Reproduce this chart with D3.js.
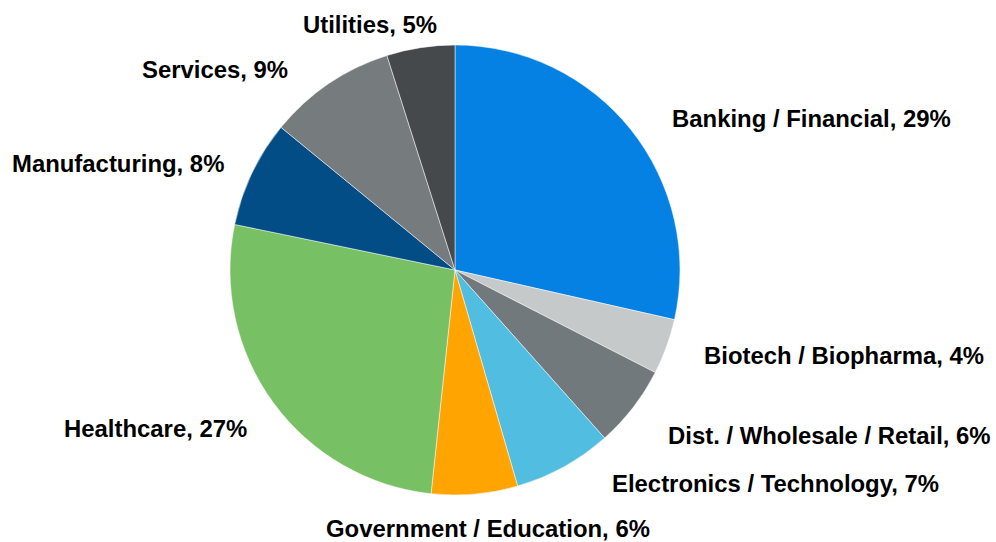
<!DOCTYPE html>
<html>
<head>
<meta charset="utf-8">
<script src="https://cdn.jsdelivr.net/npm/d3@7/dist/d3.min.js"></script>
<style>
  html, body { margin: 0; padding: 0; background: #ffffff; }
  svg { display: block; }
  text { font-family: "Liberation Sans", Arial, sans-serif; font-weight: bold; fill: #000; }
</style>
</head>
<body>
<svg id="chart" width="996" height="542"></svg>
<script>
// ---- data ----
const categories = [
  "Banking / Financial",
  "Biotech / Biopharma",
  "Dist. / Wholesale / Retail",
  "Electronics / Technology",
  "Government / Education",
  "Healthcare",
  "Manufacturing",
  "Services",
  "Utilities"
];
const values = [28.6, 4.0, 5.9, 7.1, 6.2, 26.6, 7.7, 9.2, 4.9];
const colors = ["#0481E2", "#C6C9CA", "#71797C", "#50BDE1", "#FFA400", "#77C063", "#024D85", "#767B7D", "#45494C"];

// ---- layout ----
const width = 996, height = 542;
const cx = 455, cy = 270, radius = 225;
// label anchor points (left x, baseline y)
const labelLayout = [
  [672, 127], [704, 364], [668, 444], [612, 492], [326, 537],
  [64, 437], [12, 172], [142, 78], [303, 33]
];
const fontSize = 23.9;

const svg = d3.select("#chart");
const g = svg.append("g").attr("transform", `translate(${cx},${cy})`);

const data = categories.map((c, i) => ({ name: c, value: values[i], color: colors[i], idx: i }));

const pie = d3.pie().value(d => d.value).sort(null).startAngle(0).endAngle(2 * Math.PI);
const arc = d3.arc().innerRadius(0).outerRadius(radius);

g.selectAll("path.slice")
  .data(pie(data))
  .join("path")
  .attr("class", "slice")
  .attr("d", arc)
  .attr("fill", d => d.data.color)
  .attr("stroke", "#ffffff")
  .attr("stroke-width", 0.5);

svg.selectAll("text.label")
  .data(data)
  .join("text")
  .attr("class", "label")
  .attr("x", d => labelLayout[d.idx][0])
  .attr("y", d => labelLayout[d.idx][1])
  .attr("font-size", fontSize)
  .attr("text-anchor", "start")
  .text(d => `${d.name}, ${Math.round(d.value)}%`);
</script>
</body>
</html>
